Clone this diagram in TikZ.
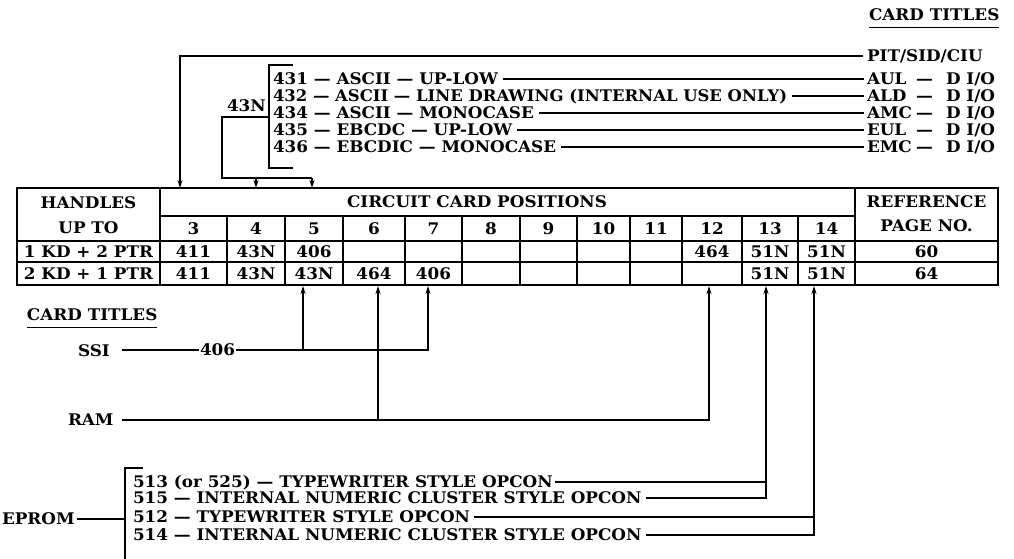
\documentclass[tikz,border=0pt]{standalone}
\usepackage{fontspec}
\setmainfont{DejaVu Serif}[FakeStretch=1.05]
\usetikzlibrary{arrows.meta}
\begin{document}
\begin{tikzpicture}[x=1pt,y=-1pt,
  t/.style={inner sep=0pt, outer sep=0pt, text height=11.6pt, text depth=0pt, font=\fontsize{16}{18}\selectfont\bfseries},
  tl/.style={t, anchor=west},
  tc/.style={t, anchor=center},
  ln/.style={line width=1.3pt},
  arr/.style={ln, -{Stealth[length=8pt,width=5pt]}},
  border/.style={line width=2.2pt},
  thin/.style={line width=1.1pt}]
\useasboundingbox (0,0) rectangle (1014,559);
% top card titles
\node[tl] (ct1) at (869,15) {CARD TITLES};
\draw[ln] ([yshift=-7pt]ct1.south west) -- ([yshift=-7pt]ct1.south east);
% coordinates at table top / bottom
\coordinate (t3) at (180,188);
\coordinate (t4) at (256,188);
\coordinate (t5) at (312,188);
\coordinate (b5) at (303,286);
\coordinate (b6) at (378,286);
\coordinate (b7) at (428,286);
\coordinate (b12) at (709,286);
\coordinate (b13) at (766,286);
\coordinate (b14) at (814,286);
% PIT
\node[tl] (pit) at (867,56) {PIT/SID/CIU};
\draw[arr] ([xshift=-4pt]pit.west) -| (t3);
% 43N group
\node[tl] (a1) at (273,79) {431 — ASCII — UP-LOW};
\node[tl] (a2) at (273,96) {\scalebox{0.978}[1]{432 — ASCII — LINE DRAWING (INTERNAL USE ONLY)}};
\node[tl] (a3) at (273,113) {434 — ASCII — MONOCASE};
\node[tl] (a4) at (273,130) {435 — EBCDC — UP-LOW};
\node[tl] (a5) at (273,147) {436 — EBCDIC — MONOCASE};
\foreach \i/\nm/\y in {1/AUL/79,2/ALD/96,3/AMC/113,4/EUL/130,5/EMC/147}{
  \node[tl] (r\i) at (867,\y) {\makebox[49pt][l]{\nm}\makebox[30pt][l]{—}D I/O};
  \draw[ln] ([xshift=5pt]a\i.east) -- ([xshift=-3pt]r\i.west);
}
\draw[ln] (293,65) -- (269,65) -- (269,168) -- (293,168);
\node[tl] (n43) at (227,106) {43N};
\coordinate (b43) at (269,117);
\coordinate (k1) at (222,178);
\coordinate (k5) at (312,178);
\draw[ln] (b43) -| (k1) -- (k5);
\draw[arr] (k5) -- (t5);
\draw[arr] (k1 -| t4) -- (t4);
% table
\draw[border] (17,188) rectangle (998,285);
\draw[thin] (160,216) -- (855,216);
\draw[thin] (17,241) -- (998,241);
\draw[thin] (17,262) -- (998,262);
\draw[thin] (160,188) -- (160,285);
\draw[thin] (855,188) -- (855,285);
\foreach \x in {227,285,343,405,462,520,577,630,682,742,798} \draw[thin] (\x,216) -- (\x,285);
\node[tc] (hd1) at (88.5,203) {HANDLES};
\node[tc] (hd2) at (88.5,228) {UP TO};
\node[tc] (ccp) at (477,202) {CIRCUIT CARD POSITIONS};
\node[tc] (ref1) at (926.5,202) {REFERENCE};
\node[tc] (ref2) at (926.5,226) {PAGE NO.};
\foreach \c/\n in {193.5/3,256/4,314/5,374/6,433.5/7,491/8,548.5/9,603.5/10,656/11,712/12,770/13,826.5/14}
  \node[tc] (col\n) at (\c,228.5) {\n};
\node[tc] (ra) at (88.5,251.5) {1 KD + 2 PTR};
\node[tc] (rb) at (88.5,273.5) {2 KD + 1 PTR};
\foreach \c/\v/\k in {193.5/411/3,256/43N/4,314/406/5,712/464/12,770/51N/13,826.5/51N/14,926.5/60/r}
  \node[tc] (ca\k) at (\c,251.5) {\v};
\foreach \c/\v/\k in {193.5/411/3,256/43N/4,314/43N/5,374/464/6,433.5/406/7,770/51N/13,826.5/51N/14,926.5/64/r}
  \node[tc] (cb\k) at (\c,273.5) {\v};
% lower card titles
\node[tl] (ct2) at (27,315) {CARD TITLES};
\draw[ln] ([yshift=-7pt]ct2.south west) -- ([yshift=-7pt]ct2.south east);
% SSI
\node[tl] (ssi) at (78,351) {SSI};
\node[tl] (n406) at (200,350) {406};
\draw[ln] ([xshift=12pt]ssi.east |- n406.west) -- ([xshift=-1pt]n406.west);
\draw[arr] ([xshift=1pt]n406.east) -| (b7);
\draw[arr] (b5 |- n406.east) -- (b5);
% RAM
\node[tl] (ram) at (68,420) {RAM};
\draw[arr] ([xshift=8pt]ram.east) -| (b12);
\draw[arr] (b6 |- ram.east) -- (b6);
% EPROM
\node[tl] (eprom) at (2,519) {EPROM};
\coordinate (brt) at (125,468);
\draw[ln] (143,468) -- (brt) -- (125,562);
\draw[ln] ([xshift=2pt]eprom.east) -- (eprom.east -| brt);
\node[tl] (e1) at (133,482) {513 (or 525) — TYPEWRITER STYLE OPCON};
\node[tl] (e2) at (133,498) {515 — INTERNAL NUMERIC CLUSTER STYLE OPCON};
\node[tl] (e3) at (133,517) {512 — TYPEWRITER STYLE OPCON};
\node[tl] (e4) at (133,535) {514 — INTERNAL NUMERIC CLUSTER STYLE OPCON};
\draw[ln] ([xshift=2pt]e1.east) -- (e1.east -| b13);
\draw[arr] ([xshift=5pt]e2.east) -| (b13);
\draw[ln] ([xshift=4pt]e3.east) -- (e3.east -| b14);
\draw[arr] ([xshift=5pt]e4.east) -| (b14);
\end{tikzpicture}
\end{document}
